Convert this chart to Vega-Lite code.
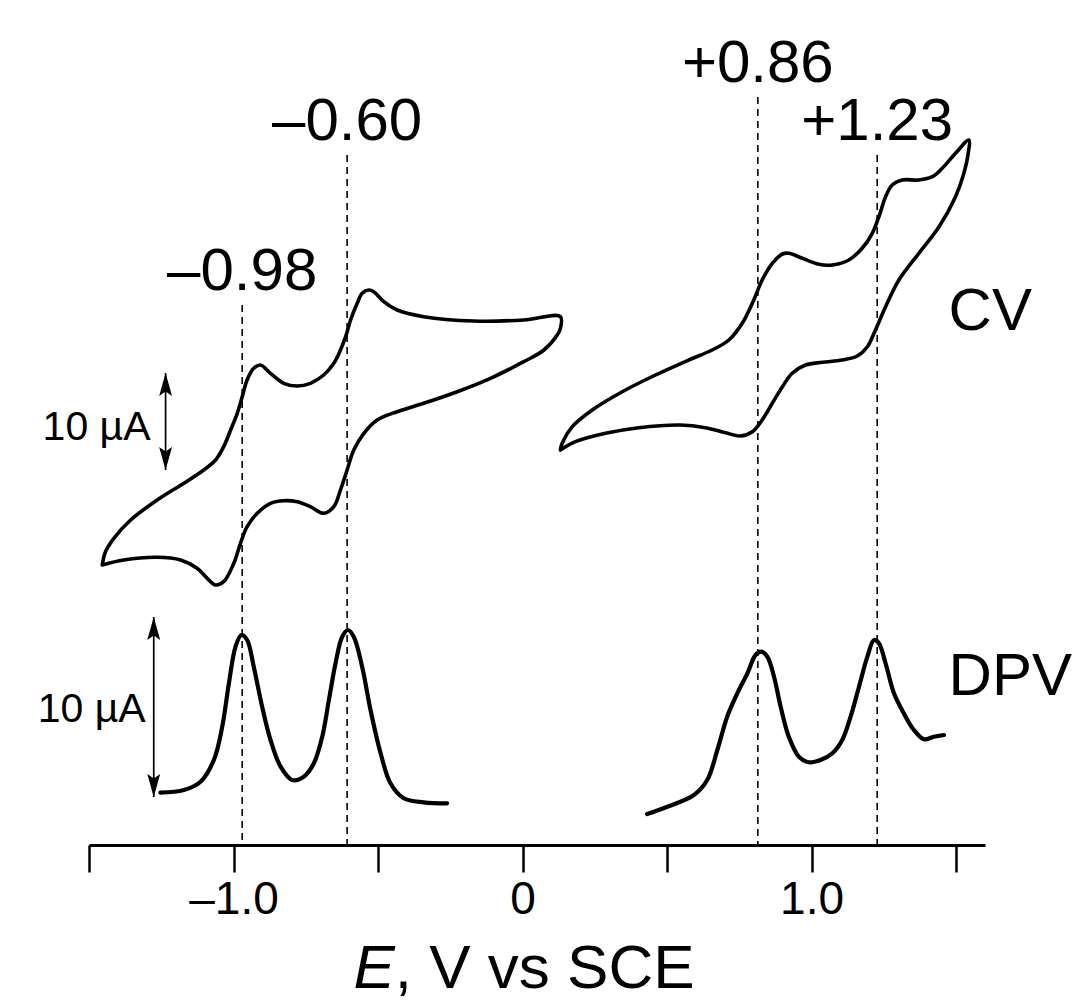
{
  "$schema": "https://vega.github.io/schema/vega-lite/v6.json",
  "width": 896,
  "height": 843,
  "autosize": {"type": "none"},
  "padding": {"left": 89, "top": 2, "right": 98, "bottom": 156},
  "background": "white",
  "config": {"view": {"stroke": null}, "font": "Liberation Sans"},
  "datasets": {
    "curves": [
      {"c":"CVa","i":1,"E":-1.454,"I":280},{"c":"CVa","i":2,"E":-1.380,"I":285},{"c":"CVa","i":3,"E":-1.264,"I":287.7},{"c":"CVa","i":4,"E":-1.183,"I":285},{"c":"CVa","i":5,"E":-1.126,"I":276.7},{"c":"CVa","i":6,"E":-1.091,"I":266.7},{"c":"CVa","i":7,"E":-1.062,"I":260},{"c":"CVa","i":8,"E":-1.034,"I":263.3},{"c":"CVa","i":9,"E":-0.999,"I":281.7},{"c":"CVa","i":10,"E":-0.976,"I":301.7},{"c":"CVa","i":11,"E":-0.953,"I":318.3},{"c":"CVa","i":12,"E":-0.918,"I":331.7},{"c":"CVa","i":13,"E":-0.872,"I":341.7},{"c":"CVa","i":14,"E":-0.826,"I":344.3},{"c":"CVa","i":15,"E":-0.780,"I":343.3},{"c":"CVa","i":16,"E":-0.734,"I":338.3},{"c":"CVa","i":17,"E":-0.688,"I":331.7},{"c":"CVa","i":18,"E":-0.653,"I":338.3},{"c":"CVa","i":19,"E":-0.630,"I":355},{"c":"CVa","i":20,"E":-0.607,"I":375},{"c":"CVa","i":21,"E":-0.584,"I":395},{"c":"CVa","i":22,"E":-0.549,"I":411.7},{"c":"CVa","i":23,"E":-0.503,"I":425},{"c":"CVa","i":24,"E":-0.434,"I":433.3},{"c":"CVa","i":25,"E":-0.342,"I":441.7},{"c":"CVa","i":26,"E":-0.226,"I":453.3},{"c":"CVa","i":27,"E":-0.111,"I":466.7},{"c":"CVa","i":28,"E":0.004,"I":483.3},{"c":"CVa","i":29,"E":0.074,"I":495},{"c":"CVa","i":30,"E":0.120,"I":510},{"c":"CVa","i":31,"E":0.131,"I":516.7},{"c":"CVa","i":32,"E":0.131,"I":528.3},{"c":"CVa","i":33,"E":0.004,"I":525},{"c":"CVa","i":34,"E":-0.169,"I":524},{"c":"CVa","i":35,"E":-0.342,"I":528.3},{"c":"CVa","i":36,"E":-0.434,"I":535},{"c":"CVa","i":37,"E":-0.480,"I":543.3},{"c":"CVa","i":38,"E":-0.515,"I":553.3},{"c":"CVa","i":39,"E":-0.532,"I":555},{"c":"CVa","i":40,"E":-0.555,"I":551.7},{"c":"CVa","i":41,"E":-0.572,"I":541.7},{"c":"CVa","i":42,"E":-0.595,"I":525},{"c":"CVa","i":43,"E":-0.612,"I":508.3},{"c":"CVa","i":44,"E":-0.630,"I":495},{"c":"CVa","i":45,"E":-0.653,"I":481.7},{"c":"CVa","i":46,"E":-0.688,"I":470},{"c":"CVa","i":47,"E":-0.734,"I":461.7},{"c":"CVa","i":48,"E":-0.780,"I":459},{"c":"CVa","i":49,"E":-0.826,"I":461.7},{"c":"CVa","i":50,"E":-0.872,"I":471.7},{"c":"CVa","i":51,"E":-0.907,"I":480},{"c":"CVa","i":52,"E":-0.930,"I":476.7},{"c":"CVa","i":53,"E":-0.953,"I":465},{"c":"CVa","i":54,"E":-0.970,"I":448.3},{"c":"CVa","i":55,"E":-0.987,"I":431.7},{"c":"CVa","i":56,"E":-1.010,"I":415},{"c":"CVa","i":57,"E":-1.034,"I":398.3},{"c":"CVa","i":58,"E":-1.062,"I":385},{"c":"CVa","i":59,"E":-1.103,"I":375},{"c":"CVa","i":60,"E":-1.172,"I":361.7},{"c":"CVa","i":61,"E":-1.264,"I":345},{"c":"CVa","i":62,"E":-1.356,"I":325},{"c":"CVa","i":63,"E":-1.414,"I":306.7},{"c":"CVa","i":64,"E":-1.443,"I":293.3},{"c":"CVa","i":65,"E":-1.454,"I":280},
      {"c":"CVb","i":1,"E":0.131,"I":395},{"c":"CVb","i":2,"E":0.183,"I":403.3},{"c":"CVb","i":3,"E":0.287,"I":411.7},{"c":"CVb","i":4,"E":0.402,"I":417.3},{"c":"CVb","i":5,"E":0.547,"I":420},{"c":"CVb","i":6,"E":0.633,"I":417.3},{"c":"CVb","i":7,"E":0.702,"I":412.3},{"c":"CVb","i":8,"E":0.754,"I":409},{"c":"CVb","i":9,"E":0.795,"I":413.3},{"c":"CVb","i":10,"E":0.829,"I":425},{"c":"CVb","i":11,"E":0.864,"I":441.7},{"c":"CVb","i":12,"E":0.899,"I":458.3},{"c":"CVb","i":13,"E":0.933,"I":471.7},{"c":"CVb","i":14,"E":0.979,"I":480},{"c":"CVb","i":15,"E":1.037,"I":482.7},{"c":"CVb","i":16,"E":1.106,"I":485},{"c":"CVb","i":17,"E":1.158,"I":489},{"c":"CVb","i":18,"E":1.193,"I":498.3},{"c":"CVb","i":19,"E":1.221,"I":515},{"c":"CVb","i":20,"E":1.256,"I":538.3},{"c":"CVb","i":21,"E":1.302,"I":565},{"c":"CVb","i":22,"E":1.371,"I":591.7},{"c":"CVb","i":23,"E":1.441,"I":618.3},{"c":"CVb","i":24,"E":1.498,"I":648.3},{"c":"CVb","i":25,"E":1.527,"I":671.7},{"c":"CVb","i":26,"E":1.542,"I":691.7},{"c":"CVb","i":27,"E":1.544,"I":705},{"c":"CVb","i":28,"E":1.498,"I":691.7},{"c":"CVb","i":29,"E":1.452,"I":676.7},{"c":"CVb","i":30,"E":1.418,"I":668.3},{"c":"CVb","i":31,"E":1.371,"I":665},{"c":"CVb","i":32,"E":1.314,"I":665},{"c":"CVb","i":33,"E":1.279,"I":660},{"c":"CVb","i":34,"E":1.256,"I":648.3},{"c":"CVb","i":35,"E":1.233,"I":628.3},{"c":"CVb","i":36,"E":1.210,"I":611.7},{"c":"CVb","i":37,"E":1.175,"I":596.7},{"c":"CVb","i":38,"E":1.129,"I":585},{"c":"CVb","i":39,"E":1.072,"I":580},{"c":"CVb","i":40,"E":1.025,"I":580.7},{"c":"CVb","i":41,"E":0.968,"I":586.7},{"c":"CVb","i":42,"E":0.921,"I":591.7},{"c":"CVb","i":43,"E":0.899,"I":591},{"c":"CVb","i":44,"E":0.864,"I":581.7},{"c":"CVb","i":45,"E":0.829,"I":565},{"c":"CVb","i":46,"E":0.800,"I":545},{"c":"CVb","i":47,"E":0.760,"I":521.7},{"c":"CVb","i":48,"E":0.714,"I":505},{"c":"CVb","i":49,"E":0.656,"I":495},{"c":"CVb","i":50,"E":0.575,"I":485},{"c":"CVb","i":51,"E":0.460,"I":470},{"c":"CVb","i":52,"E":0.345,"I":453.3},{"c":"CVb","i":53,"E":0.241,"I":435},{"c":"CVb","i":54,"E":0.172,"I":418.3},{"c":"CVb","i":55,"E":0.137,"I":401.7},{"c":"CVb","i":56,"E":0.131,"I":395},
      {"c":"DPVa","i":1,"E":-1.253,"I":52.3},{"c":"DPVa","i":2,"E":-1.172,"I":55},{"c":"DPVa","i":3,"E":-1.114,"I":63.3},{"c":"DPVa","i":4,"E":-1.068,"I":85},{"c":"DPVa","i":5,"E":-1.039,"I":118.3},{"c":"DPVa","i":6,"E":-1.016,"I":161.7},{"c":"DPVa","i":7,"E":-0.993,"I":198.3},{"c":"DPVa","i":8,"E":-0.973,"I":210},{"c":"DPVa","i":9,"E":-0.953,"I":205},{"c":"DPVa","i":10,"E":-0.930,"I":178.3},{"c":"DPVa","i":11,"E":-0.901,"I":138.3},{"c":"DPVa","i":12,"E":-0.872,"I":105},{"c":"DPVa","i":13,"E":-0.837,"I":78.3},{"c":"DPVa","i":14,"E":-0.797,"I":65},{"c":"DPVa","i":15,"E":-0.757,"I":68.3},{"c":"DPVa","i":16,"E":-0.722,"I":81.7},{"c":"DPVa","i":17,"E":-0.693,"I":108.3},{"c":"DPVa","i":18,"E":-0.670,"I":145},{"c":"DPVa","i":19,"E":-0.647,"I":181.7},{"c":"DPVa","i":20,"E":-0.624,"I":208.3},{"c":"DPVa","i":21,"E":-0.604,"I":215},{"c":"DPVa","i":22,"E":-0.584,"I":208.3},{"c":"DPVa","i":23,"E":-0.555,"I":178.3},{"c":"DPVa","i":24,"E":-0.526,"I":135},{"c":"DPVa","i":25,"E":-0.491,"I":91.7},{"c":"DPVa","i":26,"E":-0.457,"I":61.7},{"c":"DPVa","i":27,"E":-0.411,"I":46.7},{"c":"DPVa","i":28,"E":-0.342,"I":42.7},{"c":"DPVa","i":29,"E":-0.261,"I":41.7},
      {"c":"DPVb","i":1,"E":0.431,"I":31},{"c":"DPVb","i":2,"E":0.501,"I":38.3},{"c":"DPVb","i":3,"E":0.593,"I":50},{"c":"DPVb","i":4,"E":0.639,"I":65},{"c":"DPVb","i":5,"E":0.674,"I":95},{"c":"DPVb","i":6,"E":0.708,"I":128.3},{"c":"DPVb","i":7,"E":0.743,"I":151.7},{"c":"DPVb","i":8,"E":0.778,"I":171.7},{"c":"DPVb","i":9,"E":0.806,"I":190},{"c":"DPVb","i":10,"E":0.826,"I":193.3},{"c":"DPVb","i":11,"E":0.847,"I":188.3},{"c":"DPVb","i":12,"E":0.870,"I":168.3},{"c":"DPVb","i":13,"E":0.893,"I":138.3},{"c":"DPVb","i":14,"E":0.921,"I":108.3},{"c":"DPVb","i":15,"E":0.956,"I":88.3},{"c":"DPVb","i":16,"E":0.991,"I":82.7},{"c":"DPVb","i":17,"E":1.031,"I":85},{"c":"DPVb","i":18,"E":1.072,"I":91.7},{"c":"DPVb","i":19,"E":1.106,"I":105},{"c":"DPVb","i":20,"E":1.135,"I":128.3},{"c":"DPVb","i":21,"E":1.164,"I":158.3},{"c":"DPVb","i":22,"E":1.193,"I":188.3},{"c":"DPVb","i":23,"E":1.216,"I":205},{"c":"DPVb","i":24,"E":1.233,"I":201.7},{"c":"DPVb","i":25,"E":1.256,"I":181.7},{"c":"DPVb","i":26,"E":1.285,"I":151.7},{"c":"DPVb","i":27,"E":1.319,"I":131.7},{"c":"DPVb","i":28,"E":1.354,"I":115},{"c":"DPVb","i":29,"E":1.389,"I":105.7},{"c":"DPVb","i":30,"E":1.423,"I":108.3},{"c":"DPVb","i":31,"E":1.458,"I":110}
    ]
  },
  "encoding": {
    "x": {
      "field": "E", "type": "quantitative",
      "scale": {"domain": [-1.5, 1.6], "nice": false, "zero": false},
      "axis": {
        "values": [-1.5, -1, -0.5, 0, 0.5, 1, 1.5],
        "labelExpr": "datum.value == -1 ? '–1.0' : datum.value == 0 ? '0' : datum.value == 1 ? '1.0' : ''",
        "title": null, "grid": false,
        "tickSize": 27, "tickWidth": 2.5, "tickColor": "black",
        "domainColor": "black", "domainWidth": 3,
        "labelFontSize": 46, "labelFont": "Liberation Sans", "labelColor": "black",
        "labelPadding": 5, "labelFlush": false, "labelOverlap": false
      }
    },
    "y": {
      "field": "I", "type": "quantitative",
      "scale": {"domain": [0, 843], "nice": false, "zero": false},
      "axis": null
    }
  },
  "layer": [
    {
      "data": {"values": [
        {"E": -0.970, "I": 540, "t": "–0.98"},
        {"E": -0.607, "I": 690, "t": "–0.60"},
        {"E": 0.814, "I": 748, "t": "+0.86"},
        {"E": 1.227, "I": 690, "t": "+1.23"}
      ]},
      "layer": [
        {"mark": {"type": "rule", "color": "black", "strokeWidth": 1.6, "strokeDash": [7, 5]},
         "encoding": {"y2": {"datum": 0}}},
        {"mark": {"type": "text", "fontSize": 60, "align": "center", "baseline": "alphabetic", "dy": -15, "color": "black"},
         "encoding": {"text": {"field": "t"}}}
      ]
    },
    {
      "data": {"name": "curves"},
      "transform": [{"filter": "indexof(datum.c, 'CV') == 0"}],
      "mark": {"type": "line", "interpolate": "catmull-rom", "strokeWidth": 3.6, "color": "black", "strokeJoin": "round", "strokeCap": "round"},
      "encoding": {"detail": {"field": "c"}, "order": {"field": "i", "type": "quantitative"}}
    },
    {
      "data": {"name": "curves"},
      "transform": [{"filter": "indexof(datum.c, 'DPV') == 0"}],
      "mark": {"type": "line", "interpolate": "catmull-rom", "strokeWidth": 4.2, "color": "black", "strokeJoin": "round", "strokeCap": "round"},
      "encoding": {"detail": {"field": "c"}, "order": {"field": "i", "type": "quantitative"}}
    },
    {
      "data": {"values": [
        {"E": -1.235, "I": 472, "I2": 375},
        {"E": -1.276, "I": 228, "I2": 48}
      ]},
      "layer": [
        {"mark": {"type": "rule", "color": "black", "strokeWidth": 1.7},
         "encoding": {"y2": {"field": "I2"}}},
        {"mark": {"type": "point", "shape": "M0,0L0.28,1L0,0.8L-0.28,1Z", "filled": true, "size": 2116, "color": "black", "opacity": 1, "strokeWidth": 0}},
        {"mark": {"type": "point", "shape": "M0,0L0.28,-1L0,-0.8L-0.28,-1Z", "filled": true, "size": 2116, "color": "black", "opacity": 1, "strokeWidth": 0},
         "encoding": {"y": {"field": "I2", "type": "quantitative"}}}
      ]
    },
    {
      "data": {"values": [
        {"E": 1.474, "I": 515, "t": "CV"},
        {"E": 1.474, "I": 150, "t": "DPV"}
      ]},
      "mark": {"type": "text", "fontSize": 60, "align": "left", "baseline": "alphabetic", "color": "black"},
      "encoding": {"text": {"field": "t"}}
    },
    {
      "data": {"values": [
        {"E": -1.287, "I": 405, "t": "10 µA"},
        {"E": -1.304, "I": 123, "t": "10 µA"}
      ]},
      "mark": {"type": "text", "fontSize": 41, "align": "right", "baseline": "alphabetic", "color": "black"},
      "encoding": {"text": {"field": "t"}}
    },
    {
      "data": {"values": [{"E": -0.585, "I": -143, "t": "E"}]},
      "mark": {"type": "text", "fontSize": 62, "fontStyle": "italic", "align": "left", "baseline": "alphabetic", "color": "black"},
      "encoding": {"text": {"field": "t"}}
    },
    {
      "data": {"values": [{"E": -0.442, "I": -143, "t": ", V vs SCE"}]},
      "mark": {"type": "text", "fontSize": 62, "align": "left", "baseline": "alphabetic", "color": "black"},
      "encoding": {"text": {"field": "t"}}
    }
  ]
}
